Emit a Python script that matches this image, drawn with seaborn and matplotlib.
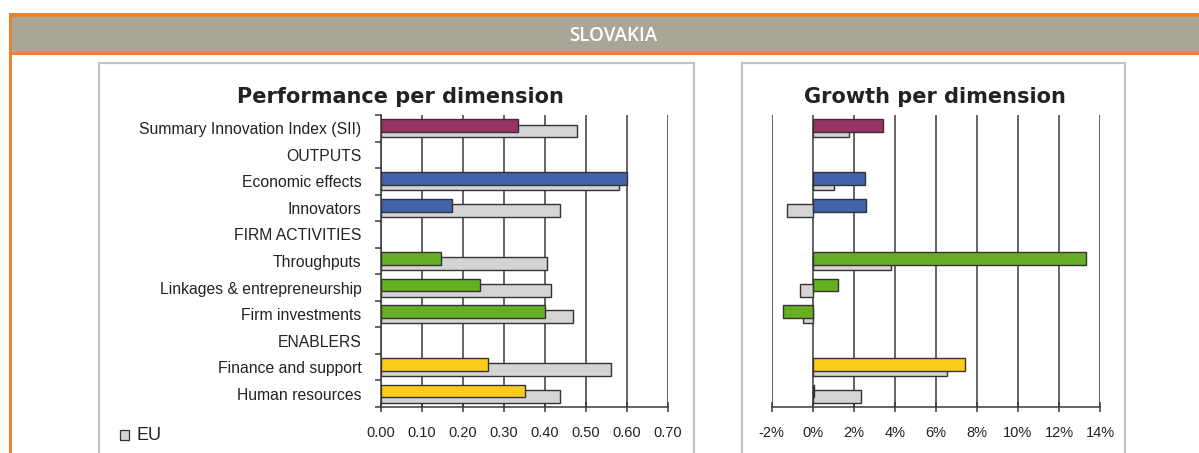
import numpy as np
import pandas as pd
import matplotlib
matplotlib.use("Agg")
import matplotlib.pyplot as plt
import seaborn as sns
from matplotlib.patches import Rectangle

# ── DATA ─────────────────────────────────────────────────────
categories = ["Summary Innovation Index (SII)", "OUTPUTS", "Economic effects",
              "Innovators", "FIRM ACTIVITIES", "Throughputs",
              "Linkages & entrepreneurship", "Firm investments", "ENABLERS",
              "Finance and support", "Human resources"]
perf_sk = [0.335, np.nan, 0.600, 0.172, np.nan, 0.147, 0.242, 0.399, np.nan, 0.262, 0.351]
perf_eu = [0.479, np.nan, 0.580, 0.437, np.nan, 0.405, 0.415, 0.469, np.nan, 0.562, 0.437]
growth_sk = [3.44, np.nan, 2.54, 2.59, np.nan, 13.34, 1.26, -1.44, np.nan, 7.42, 0.06]
growth_eu = [1.77, np.nan, 1.02, -1.26, np.nan, 3.81, -0.63, -0.45, np.nan, 6.53, 2.37]
group = ["sii", None, "out", "out", None, "firm", "firm", "firm", None, "enab", "enab"]

perf_ticks = [0.0, 0.1, 0.2, 0.3, 0.4, 0.5, 0.6, 0.7]
perf_labels = ["0.00", "0.10", "0.20", "0.30", "0.40", "0.50", "0.60", "0.70"]
growth_ticks = [-2, 0, 2, 4, 6, 8, 10, 12, 14]
growth_labels = [f"{t}%" for t in growth_ticks]

group_colors = {"sii": "#993366", "out": "#4262AA", "firm": "#66AE24", "enab": "#FDCB1C"}
eu_color = "#D4D4D6"
edge = "#333333"

df = pd.DataFrame({"cat": categories, "perf_sk": perf_sk, "perf_eu": perf_eu,
                   "growth_sk": growth_sk, "growth_eu": growth_eu, "group": group})
palette = {c: group_colors[g] for c, g in zip(categories, group) if g}

sns.set_style("white")
plt.rcParams["font.family"] = ["Liberation Sans", "DejaVu Sans"]

W, H = 1199, 453
fig = plt.figure(figsize=(W / 100, H / 100), dpi=100)


def fx(px):
    return px / W


def fy(py):
    return 1 - py / H


# ── HEADER / FRAMES ──────────────────────────────────────────
fig.patches.append(Rectangle((fx(9), fy(17)), 1, fy(13) - fy(17), transform=fig.transFigure,
                             facecolor="#E8832F", edgecolor="none"))
fig.patches.append(Rectangle((fx(9), fy(52)), 1, fy(17) - fy(52), transform=fig.transFigure,
                             facecolor="#A9A697", edgecolor="none"))
fig.patches.append(Rectangle((fx(9), fy(55)), 1, fy(52) - fy(55), transform=fig.transFigure,
                             facecolor="#E8832F", edgecolor="none"))
fig.patches.append(Rectangle((fx(9), 0), fx(2.5), fy(13), transform=fig.transFigure,
                             facecolor="#E8832F", edgecolor="none"))
fig.text(fx(613), fy(36), "SLOVAKIA", color="white", fontsize=13.5, fontweight="semibold",
         family=["Open Sans", "DejaVu Sans"], ha="center", va="center")

for x0, x1 in [(99, 694), (742, 1125)]:
    fig.patches.append(Rectangle((fx(x0), fy(470)), fx(x1 - x0), fy(63) - fy(470),
                                 transform=fig.transFigure, facecolor="none",
                                 edgecolor="#C3C3C3", linewidth=1.6))


def draw_panel(ax, sk_col, eu_col, xlim, ticks, labels):
    d = df.dropna(subset=[sk_col])
    sns.barplot(data=d, x=eu_col, y="cat", order=categories, color=eu_color, saturation=1,
                orient="h", width=0.48, edgecolor=edge, linewidth=1.0, ax=ax)
    n_eu = len(ax.patches)
    sns.barplot(data=d, x=sk_col, y="cat", hue="cat", order=categories, saturation=1,
                palette=palette, dodge=False, legend=False, orient="h",
                width=0.48, edgecolor=edge, linewidth=1.0, ax=ax)
    for i, p in enumerate(ax.patches):
        p.set_y(p.get_y() + (0.10 if i < n_eu else -0.10))
        p.set_zorder(3 if i < n_eu else 4)
    ax.set_xlim(*xlim)
    ax.set_ylim(len(categories) - 0.5, -0.5)
    ax.set_xticks(ticks, labels=labels)
    ax.xaxis.grid(True, color="#3A3A3A", linewidth=1.1)
    ax.set_axisbelow(True)
    ax.set_xlabel("")
    ax.set_ylabel("")
    for s in ["top", "right"]:
        ax.spines[s].set_visible(False)
    ax.spines["bottom"].set_color("#3A3A3A")
    ax.spines["bottom"].set_linewidth(1.1)
    ax.tick_params(axis="x", direction="inout", length=7, width=1.1, color="#3A3A3A",
                   labelsize=10.5, labelcolor="#222222", pad=10, bottom=True)


# ── PERFORMANCE PANEL ────────────────────────────────────────
ax1 = fig.add_axes([fx(381), fy(407), fx(668 - 381), fy(115) - fy(407)])
draw_panel(ax1, "perf_sk", "perf_eu", (0, 0.7), perf_ticks, perf_labels)
ax1.spines["left"].set_color("#3A3A3A")
ax1.spines["left"].set_linewidth(1.1)
ax1.set_yticks(range(len(categories)), labels=categories)
ax1.set_yticks(np.arange(-0.5, len(categories)), minor=True)
ax1.tick_params(axis="y", which="major", length=0, pad=14, labelsize=11.3, labelcolor="#222222")
ax1.tick_params(axis="y", which="minor", left=True, direction="out", length=4,
                width=1.1, color="#3A3A3A")

# ── GROWTH PANEL ─────────────────────────────────────────────
ax2 = fig.add_axes([fx(771.5), fy(407), fx(1100 - 771.5), fy(115) - fy(407)])
draw_panel(ax2, "growth_sk", "growth_eu", (-2, 14), growth_ticks, growth_labels)
ax2.spines["left"].set_visible(False)
ax2.set_yticks([])

# ── TITLES / LEGEND ──────────────────────────────────────────
fig.text(fx(400), fy(97), "Performance per dimension", fontsize=15, fontweight="bold",
         family=["DejaVu Sans"], color="#222222", ha="center", va="center")
fig.text(fx(935), fy(97), "Growth per dimension", fontsize=15, fontweight="bold",
         family=["DejaVu Sans"], color="#222222", ha="center", va="center")
fig.patches.append(Rectangle((fx(120), fy(440)), fx(9), fy(430) - fy(440),
                             transform=fig.transFigure, facecolor=eu_color,
                             edgecolor=edge, linewidth=0.9))
fig.text(fx(137), fy(435), "EU", fontsize=13, color="#222222", ha="left", va="center")

fig.savefig("out.png", dpi=100)
